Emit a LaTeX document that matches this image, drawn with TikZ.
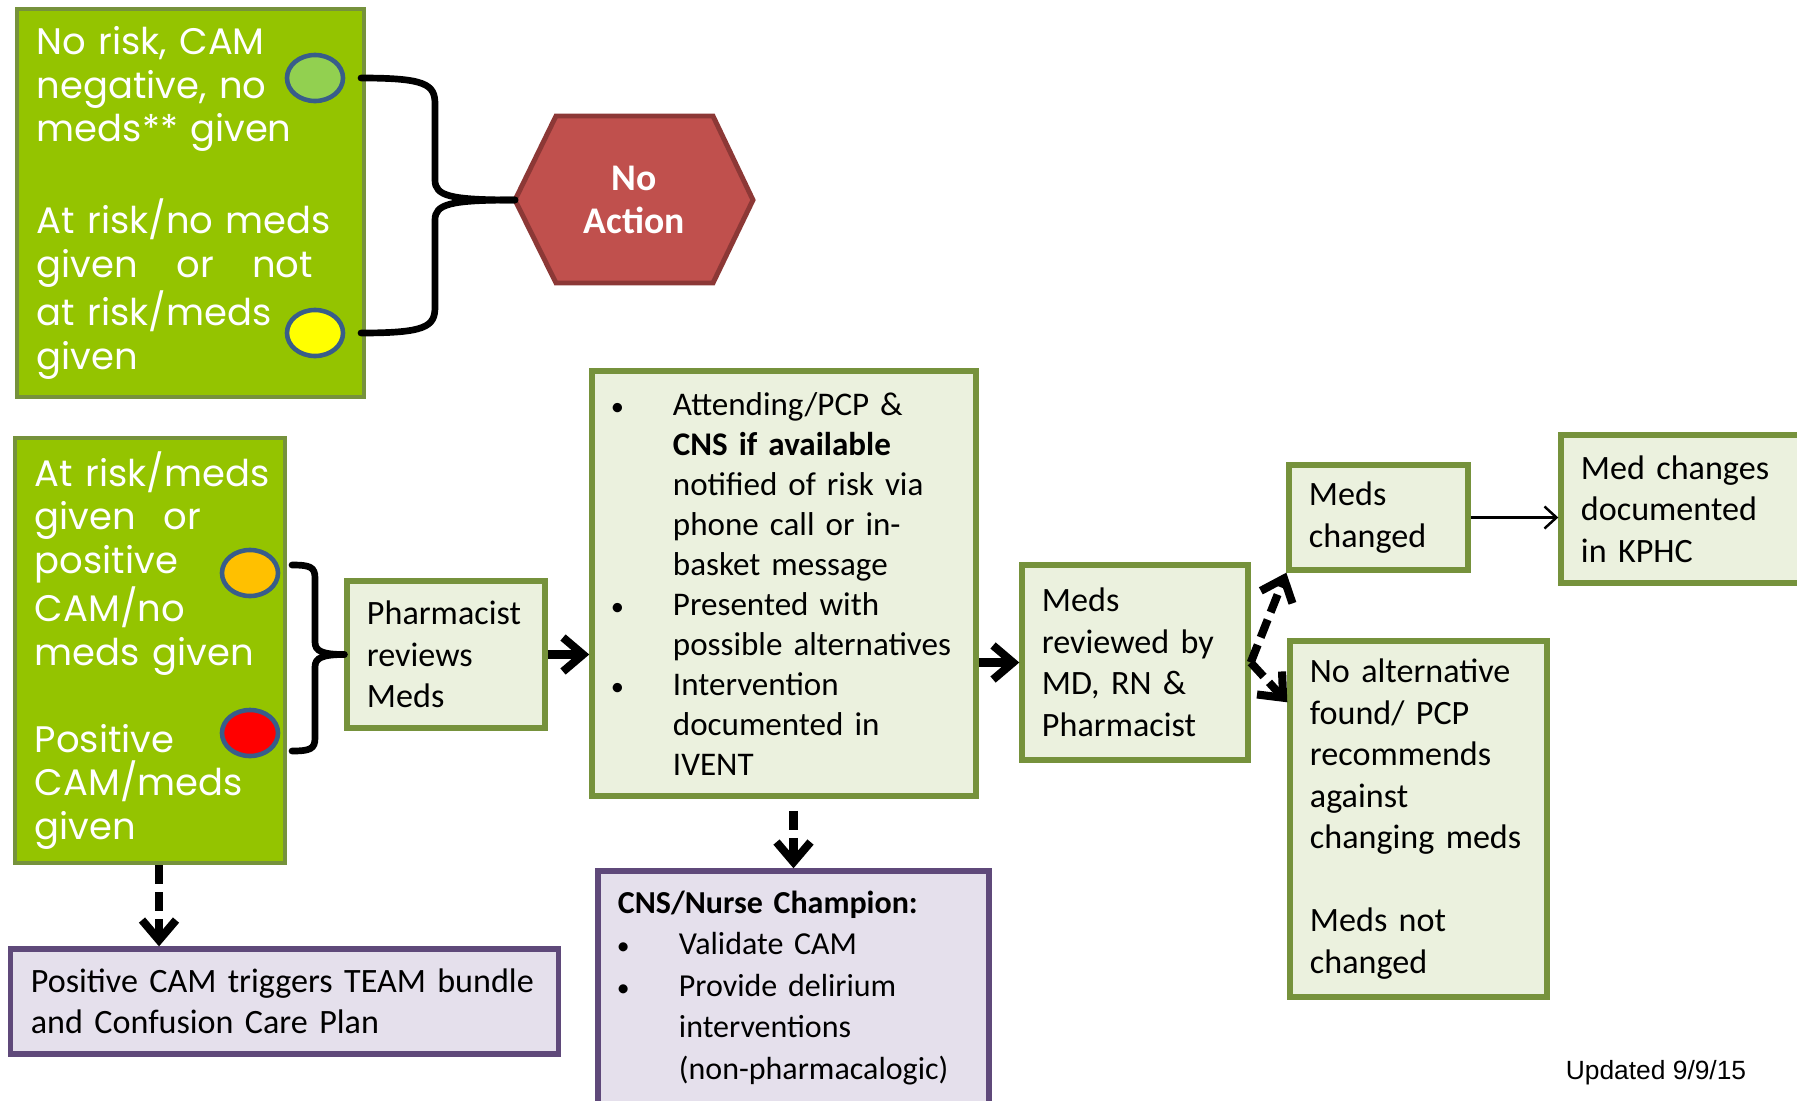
\documentclass[tikz,border=0pt]{standalone}
\usepackage{fontspec}
\setmainfont{Carlito}
\newfontfamily\gothic{Poppins}
\newfontfamily\arialf{Liberation Sans}
\usetikzlibrary{arrows.meta}
\definecolor{riskfill}{RGB}{148,196,0}
\definecolor{riskedge}{RGB}{118,146,60}
\definecolor{stepfill}{RGB}{235,241,222}
\definecolor{stepedge}{RGB}{118,146,60}
\definecolor{nursefill}{RGB}{229,224,236}
\definecolor{nurseedge}{RGB}{95,73,122}
\definecolor{hexfill}{RGB}{192,80,77}
\definecolor{hexedge}{RGB}{140,56,54}
\definecolor{dotedge}{RGB}{56,93,138}
\definecolor{dotgreen}{RGB}{146,208,80}
\definecolor{dotyellow}{RGB}{255,255,0}
\definecolor{dotorange}{RGB}{255,192,0}
\definecolor{dotred}{RGB}{255,0,0}
\newcommand{\bitem}[1]{\par\noindent\hangindent=0.61cm\hangafter=1%
  \makebox[0.61cm][l]{\kern-0.01cm\scalebox{0.8}{\textbullet}}#1\par}
\begin{document}
\begin{tikzpicture}[x=0.01cm, y=-0.01cm,
        font=\fontsize{9.7}{11.8}\selectfont,
        riskbox/.style={draw=riskedge, line width=1.1pt, fill=riskfill,
                        text=white, align=left, inner xsep=0.2cm, inner ysep=0pt,
                        font=\gothic\fontsize{10.5}{12.4}\selectfont},
        stepbox/.style={draw=stepedge, line width=1.5pt, fill=stepfill,
                        align=left, inner xsep=0.2cm, inner ysep=0pt},
        nursebox/.style={draw=nurseedge, line width=1.5pt, fill=nursefill,
                        align=left, inner xsep=0.2cm, inner ysep=0pt},
        dot/.style={draw=dotedge, line width=1.3pt},
        brace/.style={line width=1.9pt, line cap=round},
        flow/.style={-{Straight Barb[length=0.2cm, width=0.34cm]}, line width=2.3pt},
        flowdash/.style={flow, dash pattern=on 0.19cm off 0.08cm},
        docarrow/.style={-{Straight Barb[length=0.12cm, width=0.22cm]}, line width=0.7pt}]
      \useasboundingbox (0,0) rectangle (1797,1100);
      % Risk groups (green)
      \node[riskbox, text width=3.07cm, minimum height=3.87cm] (lowrisk) at (190.5,203)
            {No risk, CAM\\ negative, no\\ meds** given\\[\baselineskip]
             At risk/no meds\\ \leavevmode\hbox to 2.76cm{given\hfill or\hfill not}\\
             at risk/meds\\ given};
      \node[riskbox, text width=2.30cm, minimum height=4.25cm] (atrisk) at (150,650.5)
            {\mbox{At risk/meds}\\ given\hspace{0.15cm} or\\ positive\\ CAM/no\\
             \mbox{meds given}\\[\baselineskip] Positive\\ \mbox{CAM/meds}\\ given};
      % Colour dots
      \foreach \c/\x/\y in {dotgreen/315/78, dotyellow/315/333,
                            dotorange/250/573, dotred/250/733}
        \draw[dot, fill=\c] (\x,\y) ellipse [x radius=0.28cm, y radius=0.23cm];
      % No action hexagon
      \draw[line width=1.4pt, draw=hexedge, fill=hexfill]
            (515,200) -- (556,116) -- (713,116) -- (753,200) -- (713,283) -- (556,283) -- cycle;
      \coordinate (hexW) at (515,200);
      \node[text=white, align=center, font=\fontsize{10.7}{12.2}\selectfont\bfseries]
            (noact) at (634,200) {No\\ Action};
      % Steps
      \node[stepbox, text width=1.58cm, minimum height=1.47cm] (pharm) at (446,654.5)
            {Pharmacist\\ reviews\\ Meds};
      \node[stepbox, text width=3.44cm, minimum height=4.25cm,
            font=\fontsize{9.4}{11.4}\selectfont] (notify) at (784,583.5)
            {\bitem{Attending/PCP \&\newline\textbf{CNS if available}\newline
                    notified of risk via\newline phone call or in-\newline basket message}
             \bitem{Presented with\newline possible alternatives}
             \bitem{Intervention\newline documented in\newline IVENT}\kern0.16cm};
      \node[stepbox, text width=1.86cm, minimum height=1.95cm] (review) at (1135,662.5)
            {Meds\\ reviewed by\\ MD, RN \&\\ Pharmacist};
      \node[stepbox, text width=1.39cm, minimum height=1.05cm] (changed) at (1378.5,517.5)
            {Meds\\ changed};
      \node[stepbox, text width=2.09cm, minimum height=1.48cm] (kphc) at (1685.5,509)
            {Med changes\\ documented\\ in KPHC};
      \node[stepbox, text width=2.17cm, minimum height=3.56cm] (noalt) at (1418.5,819)
            {No alternative\\ found/ PCP\\ recommends\\ against\\ changing meds\\[\baselineskip]
             Meds not\\ changed};
      % Nursing boxes (purple)
      \node[nursebox, text width=5.07cm, minimum height=1.05cm] (team) at (284.5,1001.5)
            {Positive CAM triggers TEAM bundle\\ and Confusion Care Plan};
      \node[nursebox, text width=3.51cm, minimum height=2.34cm,
            font=\fontsize{9.1}{11.8}\selectfont] (cns) at (793.5,988)
            {\textbf{CNS/Nurse Champion:}
             \bitem{Validate CAM}
             \bitem{Provide delirium\newline interventions\newline (non-pharmacalogic)}};
      % Braces
      \draw[brace] (361,78) .. controls (425,78) and (435,84) .. (435,104)
            -- (435,180) .. controls (435,196) and (450,200) .. (hexW);
      \draw[brace] (361,333) .. controls (425,333) and (435,327) .. (435,307)
            -- (435,220) .. controls (435,204) and (450,200) .. (hexW);
      \draw[brace] (292,565) .. controls (310,565) and (315,567) .. (315,578)
            -- (315,642) .. controls (315,651) and (322,654.5) .. (pharm.west);
      \draw[brace] (292,751) .. controls (310,751) and (315,749) .. (315,738)
            -- (315,667) .. controls (315,658) and (322,654.5) .. (pharm.west);
      % Arrows
      \draw[flow] (pharm.east) -- (pharm.east -| notify.west);
      \draw[flow] (notify.east |- review.west) -- (review.west);
      \draw[flowdash] (review.east) -- (changed.south west);
      \draw[flowdash] (review.east) -- ([yshift=-0.64cm]noalt.north west);
      \draw[docarrow] (changed.east) -- (changed.east -| kphc.west);
      \draw[flowdash] ([xshift=0.09cm]atrisk.south) -- ([xshift=0.09cm]atrisk.south |- team.north);
      \draw[flowdash, shorten <=0.12cm] (cns.north |- notify.south) -- (cns.north);
      % Date
      \node[font=\arialf\fontsize{7.5}{9}\selectfont] (date) at (1656,1073) {Updated 9/9/15};
\end{tikzpicture}
\end{document}
